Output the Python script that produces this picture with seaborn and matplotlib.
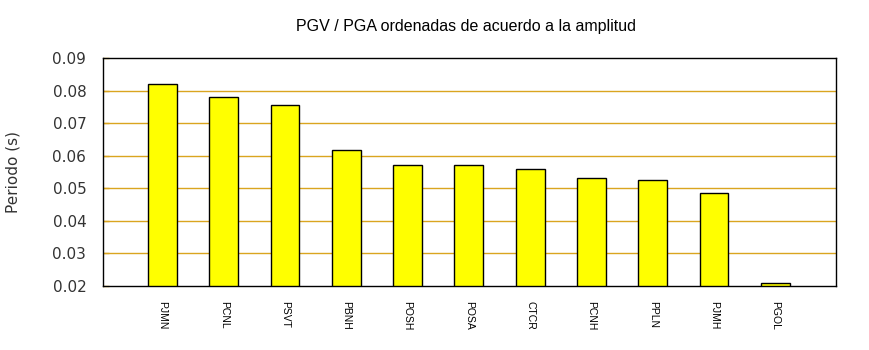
import matplotlib
matplotlib.use("Agg")
import matplotlib.pyplot as plt
import seaborn as sns
import pandas as pd

stations = ["PJMN", "PCNL", "PSVT", "PBNH", "POSH", "POSA", "CTCR", "PCNH", "PPLN", "PJMH", "PGOL"]
periods = [0.0819, 0.0779, 0.0756, 0.0619, 0.0573, 0.0571, 0.0558, 0.0531, 0.0524, 0.0485, 0.0208]
yticks = [0.02, 0.03, 0.04, 0.05, 0.06, 0.07, 0.08, 0.09]

sns.set_style("white")
plt.rcParams['font.family'] = ['DejaVu Sans']

df = pd.DataFrame({"station": stations, "period": periods})

fig = plt.figure(figsize=(8.7, 3.5), dpi=100)
ax = fig.add_axes([103/870, 1-286/350, 733/870, 228/350])

ax.set_axisbelow(True)
for t in yticks[1:-1]:
    ax.axhline(t, color="#daa520", lw=1.0, zorder=0)

sns.barplot(data=df, x="station", y="period", order=stations, color="#ffff00",
            edgecolor="black", linewidth=1.0, width=0.47, saturation=1, ax=ax, zorder=2)

ax.set_xlim(-0.97, 10.99)
ax.set_ylim(0.02, 0.09)
ax.set_yticks(yticks)
ax.set_yticklabels([f"{t:.2f}" for t in yticks], fontsize=11, color="#333333")
ax.tick_params(axis="y", direction="in", length=4, width=1, color="#daa520", pad=12, left=True)
ax.tick_params(axis="x", bottom=False, pad=7)
for lbl in ax.get_xticklabels():
    lbl.set_rotation(270)
    lbl.set_fontsize(7.5)
    lbl.set_family("Liberation Sans")
    lbl.set_color("black")
    lbl.set_va("top")
    lbl.set_ha("center")

for s in ax.spines.values():
    s.set_visible(True)
    s.set_color("black")
    s.set_linewidth(1.0)

ax.set_xlabel("")
ax.set_ylabel("Periodo (s)", fontsize=11, color="#333333")
ax.yaxis.set_label_coords(-82/733, 0.5)
fig.text(466/870, 1-27/350, "PGV / PGA ordenadas de acuerdo a la amplitud",
         ha="center", va="center", fontsize=11.5, family="Liberation Sans", color="black")

fig.savefig("out.png", dpi=100)
